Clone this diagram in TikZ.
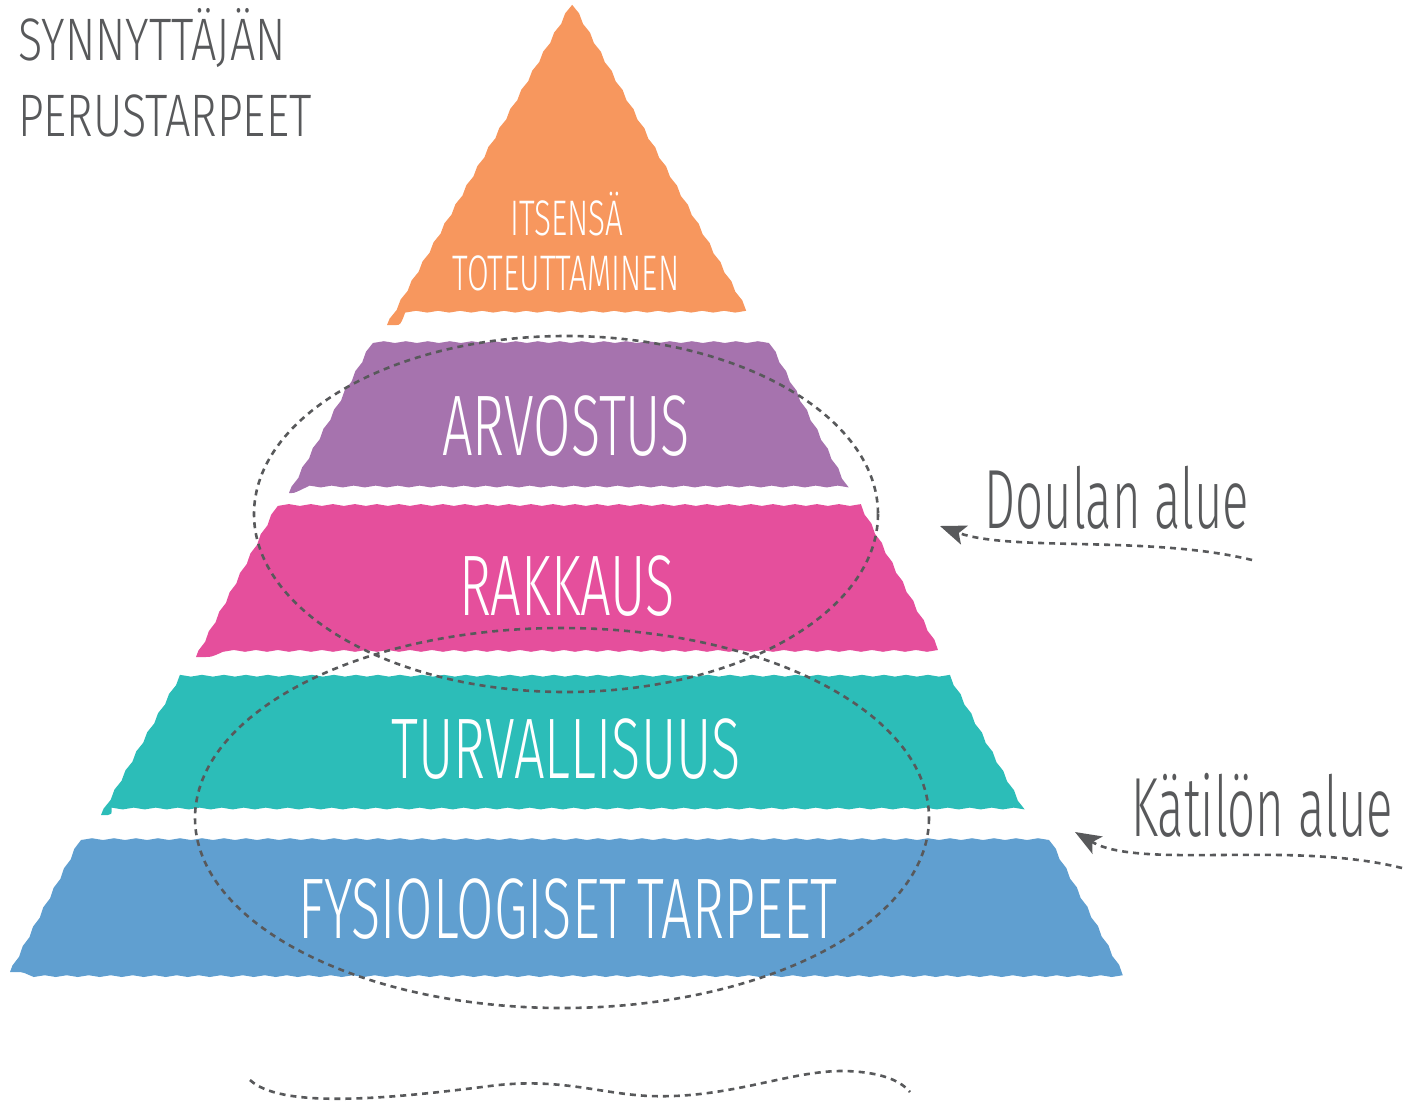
\documentclass[tikz,border=0pt]{standalone}
\usepackage{fontspec}
\newfontfamily\condfont{Fira Sans Light}[FakeStretch=0.63]
\newfontfamily\areafont{Fira Sans Light}[FakeStretch=0.585]
\newfontfamily\titlefont{Fira Sans Light}[FakeStretch=0.75]
\usetikzlibrary{arrows.meta,decorations.pathmorphing,positioning}

\definecolor{txtgray}{HTML}{58595B}
\definecolor{lvlorange}{HTML}{F7975E}
\definecolor{lvlpurple}{HTML}{A673AE}
\definecolor{lvlpink}{HTML}{E54F9C}
\definecolor{lvlteal}{HTML}{2CBDB8}
\definecolor{lvlblue}{HTML}{609FD0}

\begin{document}
\begin{tikzpicture}
   [x=1pt,y=-1pt,
    wavy/.style={decorate,decoration={snake,amplitude=0.9pt,segment length=22pt}},
    level/.style={text=white,inner sep=0pt,anchor=base,font=\condfont\fontsize{86}{86}\selectfont},
    toplevel/.style={level,font=\condfont\fontsize{50}{50}\selectfont},
    areatxt/.style={text=txtgray,inner sep=0pt,anchor=base,font=\areafont\fontsize{84}{84}\selectfont},
    zone/.style={draw=txtgray,line width=2.6pt,dash pattern=on 6pt off 5pt},
    pointer/.style={zone,-{Stealth[length=26pt,width=20pt,inset=6pt]}}]

\useasboundingbox (0,0) rectangle (1418,1106);

% pyramid levels
\fill [lvlorange,wavy] (387,325) -- (567,12) -- (745,325) -- cycle;
\fill [lvlpurple,wavy] (289,493) -- (368,350) -- (768,350) -- (845,493) -- cycle;
\fill [lvlpink,wavy]   (196,657) -- (272,515) -- (860,515) -- (937,657) -- cycle;
\fill [lvlteal,wavy]   (101,815) -- (178,680) -- (953,680) -- (1028,815) -- cycle;
\fill [lvlblue,wavy]   (10,972) -- (80,840) -- (1048,840) -- (1120,972) -- cycle;

\node [toplevel] (self1) at (567,235) {ITSENSÄ};
\node [toplevel] (self2) at (566,290) {TOTEUTTAMINEN};
\node [level] (esteem) at (566,455) {ARVOSTUS};
\node [level] (love) at (567,615) {RAKKAUS};
\node [level] (safety) at (566,778) {TURVALLISUUS};
\node [level] (physio) at (568,938) {FYSIOLOGISET\hspace{-4pt} TARPEET};

% title
\node [areatxt,anchor=base west,font=\titlefont\fontsize{60}{60}\selectfont] (title1) at (18,60) {SYNNYTTÄJÄN};
\node [areatxt,anchor=base west,font=\titlefont\fontsize{60}{60}\selectfont] (title2) at (18,136) {PERUSTARPEET};

% areas
\draw [zone] (566,514) ellipse [x radius=312, y radius=178];
\draw [zone] (562,818) ellipse [x radius=367, y radius=190];

\node [areatxt] (doula) at (1117,528) {Doulan alue};
\node [areatxt] (midwife) at (1262,836) {Kätilön alue};

\coordinate (doulafrom) at (1252,560);
\coordinate (doulato) at (940,526);
\coordinate (midfrom) at (1402,868);
\coordinate (midto) at (1075,832);
\draw [pointer] (doulafrom) .. controls (1150,535) and (1010,552) .. (doulato);
\draw [pointer] (midfrom) .. controls (1290,840) and (1140,870) .. (midto);

\coordinate (wavestart) at (250,1080);
\coordinate (waveend) at (910,1092);
\draw [zone] (wavestart) .. controls (280,1108) and (380,1100) .. (490,1086)
   .. controls (560,1077) and (600,1094) .. (650,1096)
   .. controls (730,1099) and (790,1070) .. (845,1071)
   .. controls (880,1072) and (900,1080) .. (waveend);
\end{tikzpicture}
\end{document}
